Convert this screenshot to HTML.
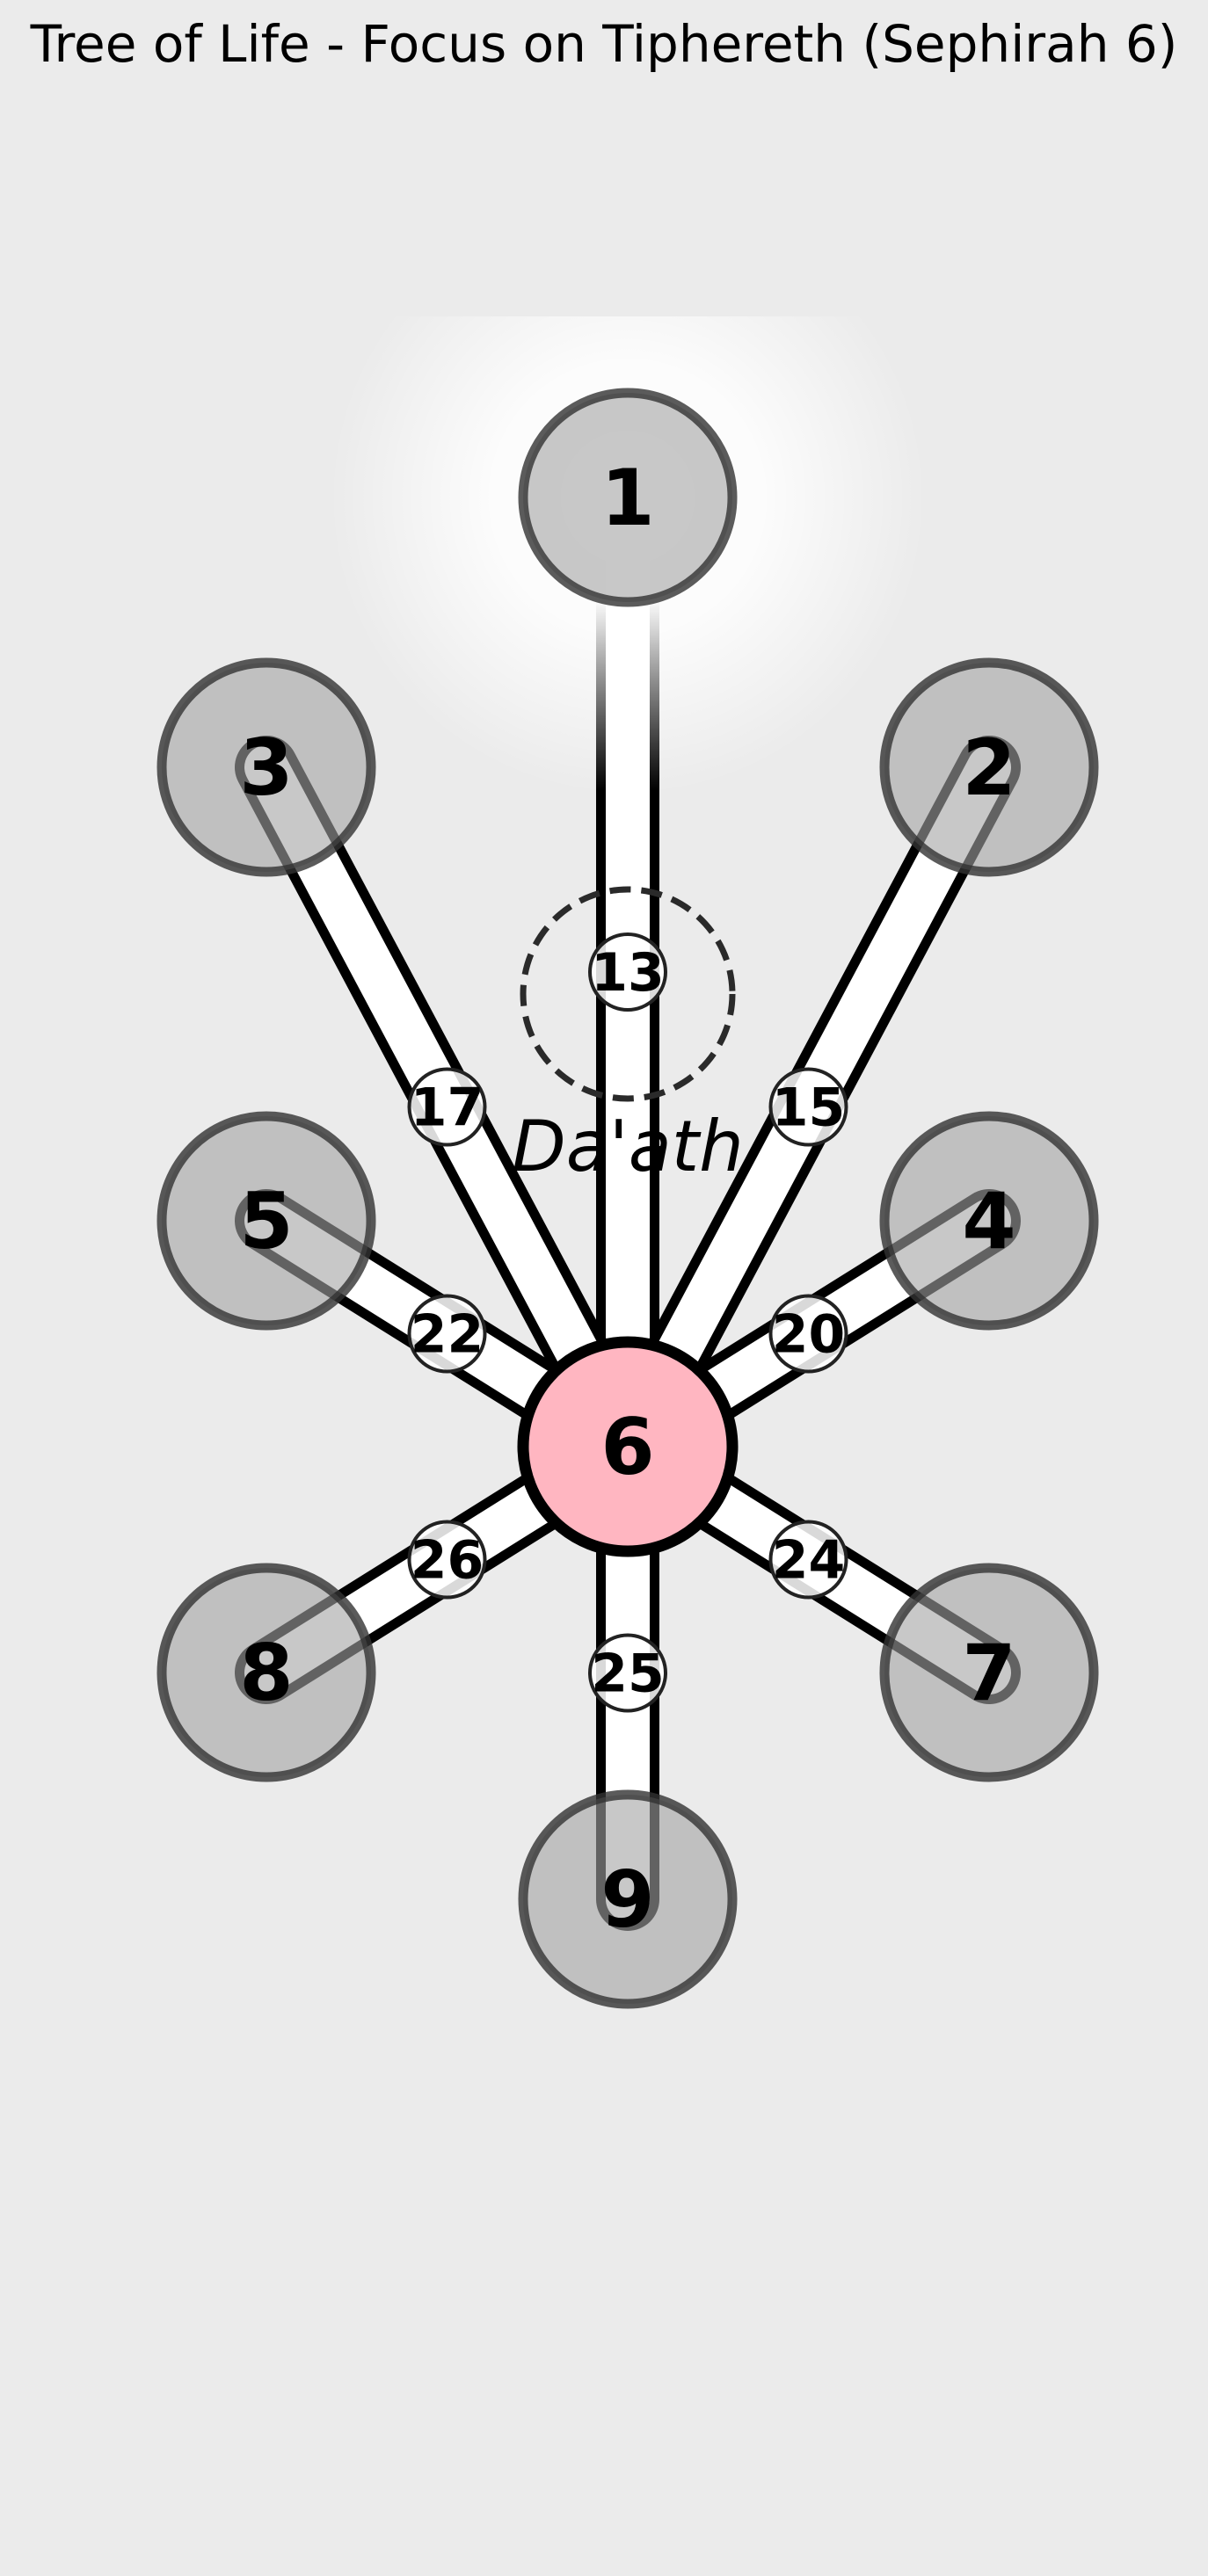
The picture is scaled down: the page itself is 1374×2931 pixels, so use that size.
<!DOCTYPE html>
<html><head><meta charset="utf-8"><style>
html,body{margin:0;padding:0;background:#ebebeb;}
svg{display:block;font-family:"DejaVu Sans","Liberation Sans",sans-serif;}
</style></head><body>
<svg id="chart" width="1374" height="2931" viewBox="0 0 1374 2931" xmlns="http://www.w3.org/2000/svg">
<defs>
<radialGradient id="glow" cx="714" cy="566" r="340" gradientUnits="userSpaceOnUse">
<stop offset="0" stop-color="#fff" stop-opacity="1"/>
<stop offset="0.45" stop-color="#fff" stop-opacity="0.85"/>
<stop offset="1" stop-color="#fff" stop-opacity="0"/>
</radialGradient>
<linearGradient id="fade" x1="0" y1="566" x2="0" y2="900" gradientUnits="userSpaceOnUse">
<stop offset="0.35" stop-color="#000" stop-opacity="0"/>
<stop offset="1" stop-color="#000" stop-opacity="1"/>
</linearGradient>
</defs>
<rect x="0" y="0" width="1374" height="2931" fill="#ebebeb"/>
<text x="687" y="70" text-anchor="middle" font-size="58" fill="#000">Tree of Life - Focus on Tiphereth (Sephirah 6)</text>
<rect x="370" y="360" width="690" height="560" fill="url(#glow)"/>
<g id="paths"></g>
<g id="daath"></g>
<g id="nodes"></g>
<g id="labels"></g>
</svg>
<script>
const nodeIds = [1,2,3,4,5,6,7,8,9];
const nodeCol = [1,2,0,2,0,1,2,0,1];   // column index: 0 left,1 middle,2 right
const nodeRow = [0,1,1,2,2,3,4,4,5];   // vertical level
const pathIds = [13,15,17,20,22,24,25,26];
const pathFrom = [6,6,6,6,6,6,6,6];
const pathTo = [1,2,3,4,5,7,9,8];
const focusNode = 6;

const NS="http://www.w3.org/2000/svg";
const colX = c => 303 + c*411;
const rowY = [566, 873, 1389, 1646, 1903, 2161];
const pos = id => { const i=nodeIds.indexOf(id); return [colX(nodeCol[i]), rowY[nodeRow[i]]]; };
function mk(tag, attrs, parent){ const e=document.createElementNS(NS,tag); for(const k in attrs) e.setAttribute(k,attrs[k]); parent.appendChild(e); return e; }

const gp=document.getElementById('paths');
pathIds.forEach((pid,i)=>{
  const [x1,y1]=pos(pathFrom[i]), [x2,y2]=pos(pathTo[i]);
  const isTop = pathTo[i]===1;
  const outer=mk('line',{x1:x1,y1:y1,x2:x2,y2:y2,stroke:isTop?'url(#fade)':'#000','stroke-width':72,'stroke-linecap':'round'},gp);
  
  
  const inner=mk('line',{x1:x1,y1:y1,x2:x2,y2:y2,stroke:'#fff','stroke-width':50,'stroke-linecap':'round'},gp);
  
  
});

const gd=document.getElementById('daath');
const dc=mk('circle',{cx:714,cy:1131,r:119,fill:'none',stroke:'#2a2a2a','stroke-width':7,'stroke-dasharray':'24 12'},gd);


const dt=mk('text',{x:714,y:1332,'text-anchor':'middle','font-size':80,'font-style':'italic',fill:'#000'},gd);
dt.textContent="Da'ath";



const gn=document.getElementById('nodes');
nodeIds.forEach(id=>{
  const [x,y]=pos(id);
  const focus = id===focusNode;
  const c=mk('circle',{cx:x,cy:y,r:119,fill:focus?'#ffb6c1':'rgb(163,163,163)','fill-opacity':focus?1:0.6,stroke:focus?'#000':'rgba(50,50,50,0.8)','stroke-width':focus?13:11},gn);
  
  
  const t=mk('text',{x:x,y:y+31,'text-anchor':'middle','font-size':88,'font-weight':'bold',fill:'#000'},gn);
  t.textContent=id;
  
  
});

const gl=document.getElementById('labels');
pathIds.forEach((pid,i)=>{
  const [x1,y1]=pos(pathFrom[i]), [x2,y2]=pos(pathTo[i]);
  const mx=(x1+x2)/2, my=(y1+y2)/2;
  const c=mk('circle',{cx:mx,cy:my,r:43,fill:'#fff','fill-opacity':0.85,stroke:'#222','stroke-width':4},gl);
  
  
  const t=mk('text',{x:mx,y:my+21,'text-anchor':'middle','font-size':60,'font-weight':'bold',fill:'#000'},gl);
  t.textContent=pid;
  
  
});
</script>
</body></html>
